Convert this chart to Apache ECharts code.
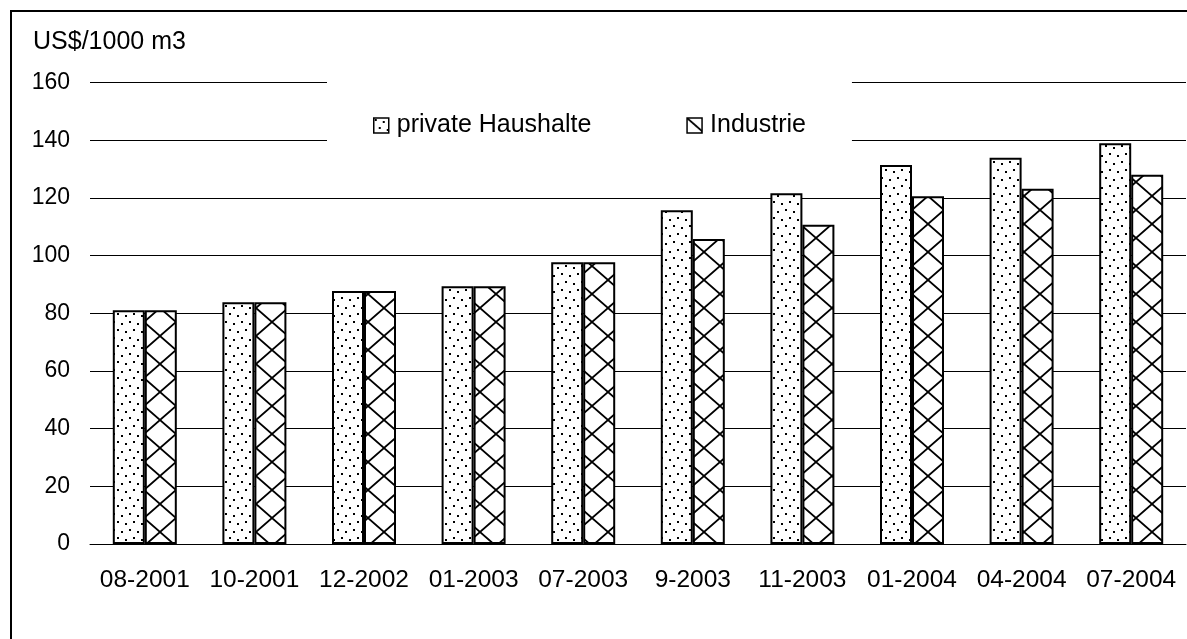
<!DOCTYPE html>
<html>
<head>
<meta charset="utf-8">
<script src="https://cdn.jsdelivr.net/npm/echarts@6/dist/echarts.min.js"></script>
<style>
html,body{margin:0;padding:0;background:#fff;}
#chart{width:1187px;height:639px;}
</style>
</head>
<body>
<div id="chart"></div>
<script>
// ---- data ----
const categories = ['08-2001','10-2001','12-2002','01-2003','07-2003','9-2003','11-2003','01-2004','04-2004','07-2004'];
const seriesNames = ['private Haushalte','Industrie'];
const privateHaushalte = [81, 83.8, 87.7, 89.4, 97.7, 115.7, 121.6, 131.4, 133.9, 138.9];
const industrie = [81, 83.8, 87.7, 89.4, 97.7, 105.7, 110.7, 120.6, 123.2, 128];
const yTicks = {min: 0, max: 160, interval: 20};
const yUnit = 'US$/1000 m3';

const FONT = 'Liberation Sans, Arial, sans-serif';

function dotPattern(){
  const c = document.createElement('canvas');
  c.width = 16; c.height = 16;
  const g = c.getContext('2d');
  g.fillStyle = '#fff'; g.fillRect(0,0,16,16);
  g.fillStyle = '#000';
  [[1,1],[9,3],[5,9],[13,11]].forEach(p => g.fillRect(p[0],p[1],2,2));
  return c;
}
function diamondPattern(){
  const w = 32, h = 28;
  const c = document.createElement('canvas');
  c.width = w; c.height = h;
  const g = c.getContext('2d');
  g.fillStyle = '#fff'; g.fillRect(0,0,w,h);
  g.strokeStyle = '#000'; g.lineWidth = 1.8;
  g.beginPath();
  g.moveTo(0,0); g.lineTo(w,h);
  g.moveTo(w,0); g.lineTo(0,h);
  g.stroke();
  return c;
}

const chart = echarts.init(document.getElementById('chart'), null, {renderer:'canvas'});
const option = {
  backgroundColor: '#fff',
  animation: false,
  title: {
    text: yUnit, left: 33, top: 30, padding: 0,
    textStyle: {fontFamily: FONT, fontSize: 25, fontWeight: 'normal', color: '#000'}
  },
  legend: {
    data: seriesNames,
    icon: 'rect',
    left: 327, top: 76,
    backgroundColor: '#fff',
    padding: [37, 46, 7, 46],
    itemWidth: 15, itemHeight: 15,
    itemGap: 95,
    itemStyle: {borderColor: '#000', borderWidth: 1.5},
    textStyle: {fontFamily: FONT, fontSize: 25, color: '#000', padding: [0, 0, 0, 3]},
    z: 5
  },
  grid: {left: 90, right: 1, top: 82.5, bottom: 95, containLabel: false},
  xAxis: {
    type: 'category', data: categories,
    axisLine: {lineStyle: {color: '#000', width: 1}},
    axisTick: {show: false},
    axisLabel: {color: '#000', fontFamily: FONT, fontSize: 24.5, margin: 24, interval: 0}
  },
  yAxis: {
    type: 'value', min: yTicks.min, max: yTicks.max, interval: yTicks.interval,
    axisLine: {show: false}, axisTick: {show: false},
    splitLine: {lineStyle: {color: '#000', width: 1}},
    axisLabel: {color: '#000', fontFamily: FONT, fontSize: 23, margin: 20}
  },
  series: [
    {
      name: seriesNames[0], type: 'bar', data: privateHaushalte,
      barWidth: 32, barGap: '0%',
      itemStyle: {color: {image: dotPattern(), repeat: 'repeat'}, borderColor: '#000', borderWidth: 2}
    },
    {
      name: seriesNames[1], type: 'bar', data: industrie,
      barWidth: 32,
      itemStyle: {color: {image: diamondPattern(), repeat: 'repeat'}, borderColor: '#000', borderWidth: 2}
    }
  ],
  graphic: [{
    type: 'rect', silent: true, z: 100,
    shape: {x: 11, y: 11, width: 1400, height: 900},
    style: {fill: 'none', stroke: '#000', lineWidth: 2}
  }]
};
chart.setOption(option);
</script>
</body>
</html>
